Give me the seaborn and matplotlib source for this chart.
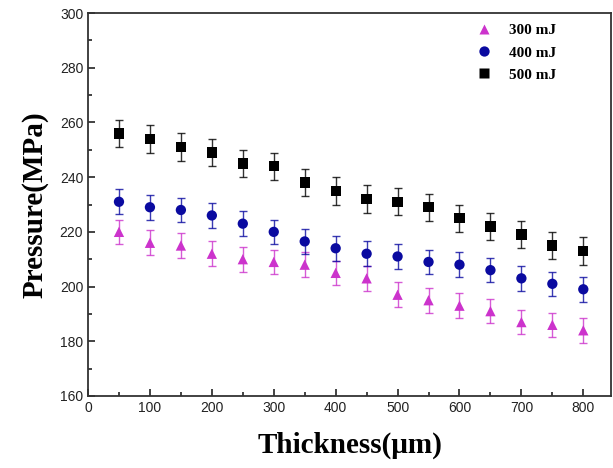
import numpy as np
import pandas as pd
import seaborn as sns
import matplotlib.pyplot as plt
from matplotlib.ticker import MultipleLocator

# thickness (um)
thickness = [50, 100, 150, 200, 250, 300, 350, 400, 450, 500, 550, 600, 650, 700, 750, 800]

p300 = [220, 216, 215, 212, 210, 209, 208, 205, 203, 197, 195, 193, 191, 187, 186, 184]
p400 = [231, 229, 228, 226, 223, 220, 216.5, 214, 212, 211, 209, 208, 206, 203, 201, 199]
p500 = [256, 254, 251, 249, 245, 244, 238, 235, 232, 231, 229, 225, 222, 219, 215, 213]

err300 = 4.5
err400 = 4.5
err500 = 5.0

labels = ['300 mJ', '400 mJ', '500 mJ']
colors = ['#cc33cc', '#0a0aa0', '#000000']
markers = ['^', 'o', 's']

df = pd.DataFrame({
    'thickness': thickness * 3,
    'pressure': p300 + p400 + p500,
    'err': [err300] * 16 + [err400] * 16 + [err500] * 16,
    'energy': [labels[0]] * 16 + [labels[1]] * 16 + [labels[2]] * 16,
})

sns.set_style('ticks')
plt.rcParams['text.color'] = 'black'
plt.rcParams['axes.labelcolor'] = 'black'
fig = plt.figure(figsize=(6.13, 4.68), dpi=100)
ax = fig.add_axes([0.1436, 0.154, 0.8534, 0.818])

# error bars first
for lab, c in zip(labels, colors):
    d = df[df['energy'] == lab]
    ax.errorbar(d['thickness'], d['pressure'], yerr=d['err'], fmt='none',
                ecolor=c, elinewidth=1, capsize=3, capthick=1, alpha=0.8, zorder=2)

sns.scatterplot(data=df, x='thickness', y='pressure', hue='energy', style='energy',
                palette=dict(zip(labels, colors)), markers=dict(zip(labels, markers)),
                s=55, edgecolor='none', ax=ax, zorder=3)

ax.set_xlim(0, 845)
ax.set_ylim(160, 300)
ax.xaxis.set_major_locator(MultipleLocator(100))
ax.xaxis.set_minor_locator(MultipleLocator(50))
ax.yaxis.set_major_locator(MultipleLocator(20))
ax.yaxis.set_minor_locator(MultipleLocator(10))
ax.tick_params(which='both', direction='in', top=False, right=False, colors='#222222')
ax.tick_params(which='major', length=5, width=1.2)
ax.tick_params(which='minor', length=3, width=1.2)
for lbl in ax.get_xticklabels() + ax.get_yticklabels():
    lbl.set_fontfamily('Liberation Sans')
    lbl.set_fontsize(10)
    lbl.set_color('#222222')
for sp in ax.spines.values():
    sp.set_linewidth(1.3)
    sp.set_color('#333333')

ax.set_xlabel('Thickness(μm)', fontfamily='Liberation Serif', fontweight='bold',
              fontsize=21, labelpad=12, color='black')
ax.set_ylabel('Pressure(MPa)', fontfamily='Liberation Serif', fontweight='bold',
              fontsize=21, labelpad=8, color='black')

handles, _ = ax.get_legend_handles_labels()
ax.legend(handles, labels, loc='upper right', bbox_to_anchor=(0.915, 1.0), frameon=False,
          prop={'family': 'Liberation Serif', 'weight': 'bold', 'size': 11},
          handletextpad=0.6, labelspacing=0.55, borderaxespad=0.3)

fig.savefig('out.png', dpi=100)
